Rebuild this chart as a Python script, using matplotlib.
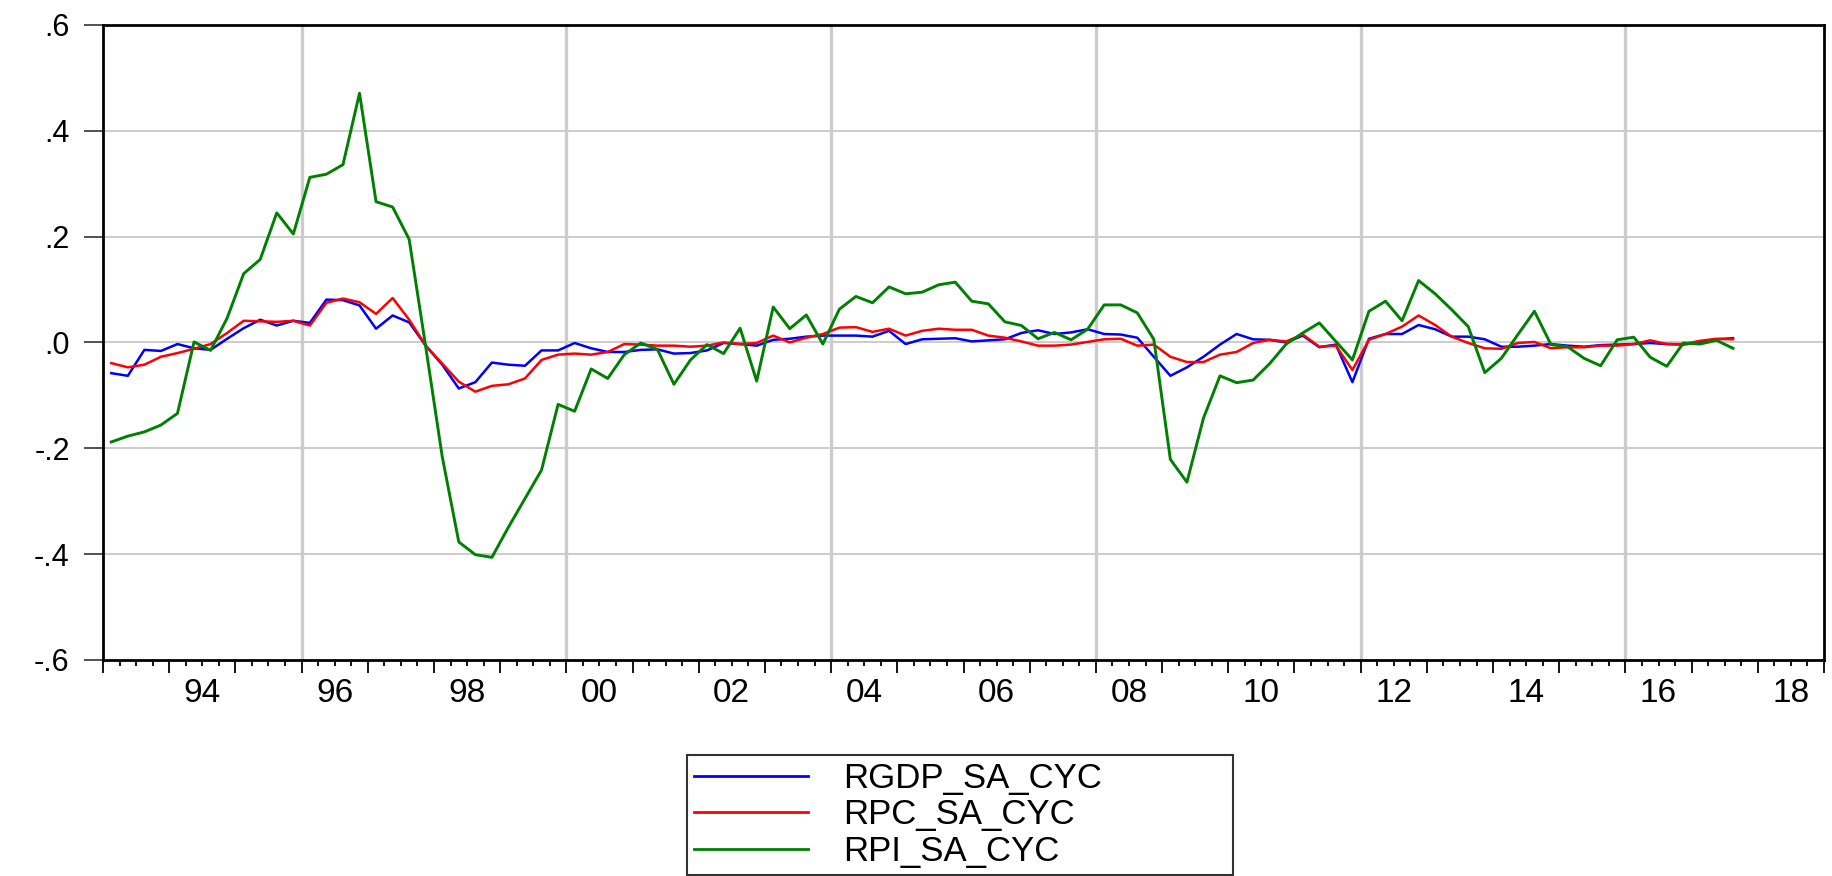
import numpy as np
import matplotlib
matplotlib.use("Agg")
import matplotlib.pyplot as plt
from matplotlib.transforms import ScaledTranslation

plt.rcParams['font.family'] = ['Liberation Sans', 'DejaVu Sans']

# quarterly data, 1993Q1 - 2017Q3
start_year = 1993
rgdp = [-0.058, -0.063, -0.014, -0.016, -0.003, -0.011, -0.014, 0.007, 0.027, 0.043, 0.032, 0.041,
        0.037, 0.081, 0.080, 0.070, 0.026, 0.051, 0.038, -0.006, -0.042, -0.087, -0.075, -0.038,
        -0.042, -0.044, -0.015, -0.015, -0.001, -0.011, -0.018, -0.018, -0.014, -0.013, -0.021, -0.020,
        -0.015, -0.001, -0.003, -0.006, 0.005,
        0.007, 0.011, 0.013, 0.013, 0.013, 0.011, 0.022, -0.003, 0.006, 0.007, 0.008, 0.002,
        0.004, 0.006, 0.018, 0.023, 0.016, 0.019, 0.025, 0.016, 0.015, 0.009,
        -0.027, -0.063, -0.047, -0.027, -0.004, 0.016, 0.006, 0.005, 0.000, 0.013, -0.009, -0.004,
        -0.075, 0.007, 0.016, 0.016, 0.033, 0.025, 0.011, 0.011,
        0.006, -0.008, -0.008, -0.006, -0.003, -0.006, -0.008, -0.005, -0.004, -0.003, -0.001, -0.003,
        -0.004, 0.000, 0.006, 0.008]
rpc = [-0.039, -0.047, -0.042, -0.027, -0.020, -0.012, -0.003, 0.018, 0.041, 0.040, 0.039, 0.041,
       0.032, 0.075, 0.083, 0.076, 0.054, 0.084, 0.043, -0.006, -0.040, -0.074, -0.093, -0.082,
       -0.079, -0.068, -0.033, -0.023, -0.021, -0.023, -0.018, -0.003, -0.004, -0.006, -0.006, -0.008,
       -0.006, 0.000, -0.003, -0.001, 0.013,
       0.000, 0.009, 0.016, 0.028, 0.029, 0.020, 0.026, 0.013, 0.022, 0.026, 0.024, 0.024,
       0.013, 0.009, 0.002, -0.006, -0.006, -0.004, 0.001, 0.006, 0.007, -0.006,
       -0.004, -0.027, -0.037, -0.037, -0.023, -0.018, -0.001, 0.005, 0.002, 0.015, -0.008, -0.006,
       -0.052, 0.005, 0.016, 0.030, 0.051, 0.033, 0.011, -0.001,
       -0.011, -0.012, -0.001, 0.001, -0.011, -0.009, -0.009, -0.006, -0.006, -0.003, 0.004, -0.003,
       -0.003, 0.003, 0.007, 0.006]
rpi = [-0.188, -0.177, -0.169, -0.156, -0.134, 0.001, -0.015, 0.046, 0.130, 0.157, 0.245, 0.205,
       0.312, 0.318, 0.336, 0.471, 0.266, 0.256, 0.195,
       -0.008, -0.216, -0.377, -0.401, -0.406, -0.349, -0.295, -0.241, -0.117, -0.130, -0.050, -0.068,
       -0.023, -0.001, -0.013, -0.079, -0.033, -0.004, -0.021, 0.027, -0.073, 0.067, 0.026, 0.052,
       -0.003, 0.063, 0.087, 0.075, 0.105, 0.092, 0.095, 0.109, 0.114, 0.078, 0.073, 0.039,
       0.032, 0.007, 0.019, 0.005, 0.025, 0.071, 0.071, 0.056, 0.006,
       -0.221, -0.264, -0.143, -0.063, -0.076, -0.071, -0.040, -0.003, 0.018, 0.037, 0.002, -0.033,
       0.059, 0.078, 0.041, 0.117, 0.092, 0.062, 0.030,
       -0.057, -0.030, 0.015, 0.059, -0.004, -0.008, -0.030, -0.044, 0.005, 0.010, -0.028, -0.045,
       -0.001, -0.003, 0.004, -0.011]
names = ["RGDP_SA_CYC", "RPC_SA_CYC", "RPI_SA_CYC"]

# each quarter is drawn at the middle of its interval
t = start_year + (np.arange(len(rgdp)) + 0.5) / 4.0

fig = plt.figure(figsize=(18.33, 8.76), dpi=100)
ax = fig.add_axes([0.0562, 0.2466, 0.9389, 0.7249])

grid_c = '#cccccc'
for v in [-0.4, -0.2, 0.0, 0.2, 0.4]:
    ax.axhline(v, color=grid_c, lw=1.4, zorder=1)
for yr in range(1996, 2017, 4):
    ax.axvline(yr, color=grid_c, lw=2.4, zorder=1)

ax.plot(t, rgdp, color='#0000ff', lw=1.8, label=names[0], zorder=3)
ax.plot(t, rpc, color='#ff0000', lw=1.8, label=names[1], zorder=3)
ax.plot(t, rpi, color='#008000', lw=2.1, label=names[2], zorder=3)

ax.set_xlim(1993, 2019)
ax.set_ylim(-0.6, 0.6)

years = np.arange(1993, 2020)
ax.set_xticks(years)
ax.set_xticks(np.arange(1993, 2019.01, 0.25), minor=True)
ax.set_xticklabels(["%02d" % (y % 100) if (y % 2 == 0 and y < 2019) else "" for y in years])
ax.tick_params(axis='x', which='major', length=9.5, width=1.3, pad=3.5, labelsize=24, color='black')
ax.tick_params(axis='x', which='minor', length=4.5, width=1.3, color='black')
# put year labels in the middle of each year
for lab in ax.get_xticklabels():
    lab.set_transform(lab.get_transform() + ScaledTranslation(0.33, 0, fig.dpi_scale_trans))

yt = np.arange(-0.6, 0.61, 0.2)
ax.set_yticks(yt)
ax.set_yticklabels([("-" if v < -1e-9 else "") + ("%.1f" % abs(v))[1:] for v in yt])
ax.tick_params(axis='y', length=14, width=1.2, pad=10, labelsize=22, color='#333333')

for s in ax.spines.values():
    s.set_linewidth(2)
    s.set_color('black')

leg = ax.legend(loc='upper left', bbox_to_anchor=(0.3393, -0.40, 0.3173, 0.2504), mode='expand',
                borderaxespad=0, frameon=True, fancybox=False, edgecolor='black', fontsize=25,
                handlelength=3.3, handletextpad=1.0, labelspacing=0.1, borderpad=0.2)
leg.get_frame().set_linewidth(1.5)
for ln in leg.get_lines():
    ln.set_linewidth(2)

fig.savefig("out.png", dpi=100)
